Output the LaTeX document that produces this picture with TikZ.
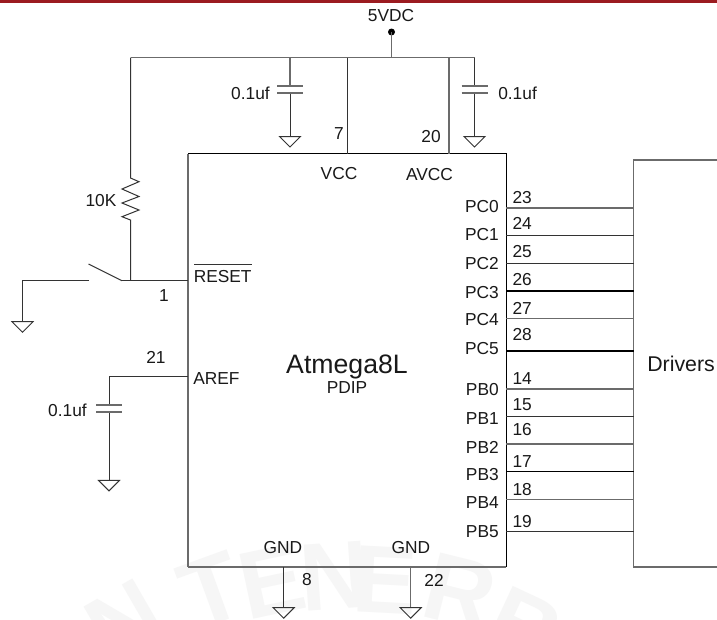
\documentclass[tikz,border=0pt]{standalone}
\usepackage{fontspec}
\setmainfont{Liberation Sans}
\definecolor{barred}{RGB}{155,27,32}
\definecolor{wm}{RGB}{246,246,246}
\begin{document}
\begin{tikzpicture}[x=0.75pt,y=-0.75pt,
  wire/.style={draw=black!80,line width=0.75pt,line join=miter},
  gwire/.style={draw=black!58,line width=1.05pt},
  bwire/.style={draw=black,line width=1.05pt},
  lab/.style={inner sep=0pt,font=\fontsize{13pt}{15pt}\selectfont,text=black!90},
  big/.style={inner sep=0pt,font=\fontsize{20pt}{22pt}\selectfont,text=black!90},
  mid/.style={inner sep=0pt,font=\fontsize{16pt}{18pt}\selectfont,text=black!90},
  wmark/.style={inner sep=0pt,text=wm,font=\bfseries\fontsize{72pt}{74pt}\selectfont},
  gnd/.pic={\draw[wire] (-10.5,0) -- (10.5,0) -- (0,10.5) -- cycle;},
  cap/.pic={\draw[gwire] (-13,-3.5) -- (13,-3.5) (-13,3.5) -- (13,3.5);}
]
\useasboundingbox (0,0) rectangle (717,619);
\fill[fill=white] (0,0) rectangle (717,619);
\fill[fill=barred] (0,0) rectangle (717,3.4);
% watermark
\begin{scope}
\clip (0,0) rectangle (717,619);
\foreach \ch/\px/\py/\rt [count=\i] in {N/125/622/30,T/212/590/20,E/272/582/12,N/335/576/4,E/385/580/-3,R/460/592/-14,B/525/628/-25}{
  \node[wmark,rotate=\rt] (w\i) at (\px,\py) {\ch};
}
\end{scope}
% IC
\coordinate (icNW) at (188,153.5); \coordinate (icSE) at (506.3,567);
\draw[wire,draw=black] (icNW) -- (506.3,153.5) -- (icSE);
\draw[gwire,line width=1.4pt] (icNW) -- (188,567);
\draw[gwire] (188,567) -- (icSE);
% drivers box
\coordinate (drvNW) at (633.7,160); \coordinate (drvSW) at (633.7,567);
\draw[gwire] (717,160) -- (drvNW) -- (drvSW) -- (717,567);
% supply
\coordinate (rail) at (391.5,57.7);
\coordinate (v5) at (391.5,32);
\fill[black] (v5) circle (3.5);
\draw[gwire] (v5) -- (rail);
\coordinate (railL) at (130.5,57.7); \coordinate (railR) at (474.5,57.7);
\draw[gwire] (railL) -- (railR);
% resistor + switch
\coordinate (rTop) at (130.5,178); \coordinate (rBot) at (130.5,220);
\coordinate (swJ) at (130.5,280.7);
\draw[wire] (railL) -- (rTop) -- (139,181.7) -- (122,189) -- (139,196.5) -- (122,203) -- (139,210) -- (122,216.7) -- (rBot) -- (swJ);
\coordinate (resetPin) at (188,280.7);
\coordinate (swA) at (122,280.7);
\draw[wire] (swA) -- (resetPin);
\draw[wire] (88.5,264) -- (swA);
\coordinate (swB) at (89,280.7); \coordinate (g0) at (22.5,321.7);
\draw[wire] (swB) -- (22.5,280.7) -- (g0);
\pic at (g0) {gnd};
% cap 1
\coordinate (c1top) at (290,57.7); \coordinate (g1) at (290,136.5);
\draw[gwire] (c1top) -- (290,86);
\draw[wire] (290,93) -- (g1);
\pic at (290,89.5) {cap};
\pic at (g1) {gnd};
% VCC / AVCC
\coordinate (vccT) at (347.3,57.7); \coordinate (vccB) at (347.3,153.5);
\draw[wire] (vccT) -- (vccB);
\coordinate (avccT) at (449,57.7); \coordinate (avccB) at (449,153.5);
\draw[gwire] (avccT) -- (avccB);
% cap 2
\coordinate (g2) at (474.5,136.5);
\draw[wire] (railR) -- (474.5,86) (474.5,93) -- (g2);
\pic at (474.5,89.5) {cap};
\pic at (g2) {gnd};
% AREF
\coordinate (arefPin) at (188,376); \coordinate (g3) at (109,480.3);
\draw[wire] (arefPin) -- (109,376) -- (109,404.7) (109,412) -- (g3);
\pic at (109,408.3) {cap};
\pic at (g3) {gnd};
% GND pins
\coordinate (gp8) at (283.7,567); \coordinate (g8) at (283.7,607.7);
\coordinate (gp22) at (410.7,567); \coordinate (g22) at (410.7,607.7);
\draw[wire] (gp8) -- (g8);
\draw[gwire] (gp22) -- (g22);
\pic at (g8) {gnd};
\pic at (g22) {gnd};
% port wires
\foreach \py/\st/\pn/\ly/\num/\ny in {208/gwire/PC0/207/23/198,235.7/wire/PC1/235/24/223,263.3/wire/PC2/264/25/252,291/bwire/PC3/293/26/280,318.7/gwire/PC4/320/27/308,351/bwire/PC5/349/28/335,389/gwire/PB0/390/14/379,416.7/wire/PB1/419/15/405,444/gwire/PB2/447/16/430,471.7/bwire/PB3/475/17/462,499.7/gwire/PB4/503/18/490,531.3/wire/PB5/532/19/522}{
  \coordinate (a\pn) at (506.3,\py);
  \coordinate (b\pn) at (633.7,\py);
  \draw[\st] (a\pn) -- (b\pn);
  \node[lab,anchor=east] (l\pn) at (499,\ly) {\pn};
  \node[lab,anchor=west] (n\pn) at (512.3,\ny) {\num};
}
% labels
\node[lab] (t5v) at (391,16) {5VDC};
\node[lab,anchor=east] (tc1) at (270,93) {0.1uf};
\node[lab,anchor=west] (tc2) at (498,93) {0.1uf};
\node[lab] (t7) at (339,134) {7};
\node[lab] (t20) at (431,137) {20};
\node[lab] (tvcc) at (339,174) {VCC};
\node[lab] (tavcc) at (429.5,175) {AVCC};
\node[lab] (t10k) at (101,201) {10K};
\node[lab,anchor=west] (trst) at (193.5,276.5) {RESET};
\draw[wire] (194,264.3) -- (252,264.3);
\node[lab] (t1) at (164,296) {1};
\node[lab] (t21) at (156,357) {21};
\node[lab,anchor=west] (taref) at (193,379) {AREF};
\node[lab,anchor=east] (tc3) at (87,410) {0.1uf};
\node[big] (tatm) at (347,367) {Atmega8L};
\node[lab] (tpdip) at (347,388) {PDIP};
\node[lab] (tg8) at (283,548) {GND};
\node[lab] (tg22) at (411,548) {GND};
\node[lab] (t8) at (307,580) {8};
\node[lab] (t22) at (434,580) {22};
\node[mid,anchor=west] (tdrv) at (647,364) {Drivers};
\end{tikzpicture}
\end{document}
